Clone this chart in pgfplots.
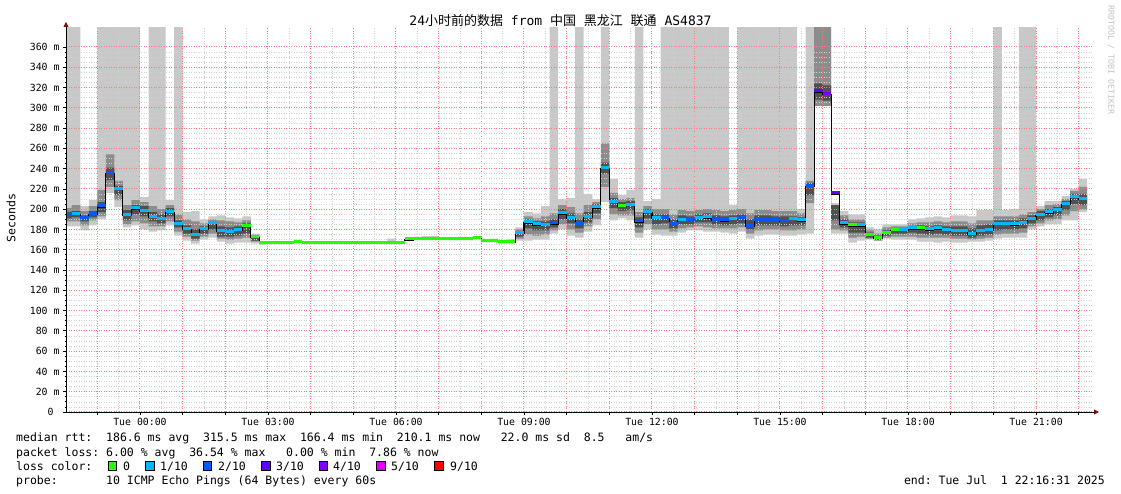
\documentclass[border=0pt]{standalone}
\usepackage{pgfplots}
\pgfplotsset{compat=1.18}
\usepackage{pgfplotstable}
\usepgfplotslibrary{fillbetween}
\usetikzlibrary{arrows.meta}
\usepackage{fontspec}
\setmainfont{DejaVu Sans Mono}
\newfontfamily\cjk{Noto Sans CJK SC}
\frenchspacing

\definecolor{loss0}{HTML}{26FF00}
\definecolor{loss1}{HTML}{00B8FF}
\definecolor{loss2}{HTML}{0059FF}
\definecolor{loss3}{HTML}{5E00FF}
\definecolor{loss4}{HTML}{7E00FF}
\definecolor{loss5}{HTML}{DD00FF}
\definecolor{loss9}{HTML}{FF0000}
\definecolor{smokeA}{HTML}{C8C8C8}
\definecolor{smokeB}{HTML}{8C8C8C}
\definecolor{smokeC}{HTML}{505050}
\definecolor{gridred}{HTML}{FF7A7A}
\definecolor{gridgray}{HTML}{D0D0D0}
\definecolor{arrowc}{HTML}{801010}
\definecolor{wmark}{HTML}{C4C4C4}

\newcommand\tickfont{\fontsize{9.85bp}{12bp}\selectfont}
\newcommand\legfont{\fontsize{11.5bp}{14bp}\selectfont}
\newcommand\titlefont{\fontsize{13bp}{16bp}\selectfont}

% smoke below the grid, median line above it
\pgfplotsset{
  layers/smoke/.define layer set={axis background,pre main,axis grid,axis ticks,main,axis lines,axis tick labels,axis descriptions,axis foreground}{/pgfplots/layers/standard},
}

% 12-minute steps, t in hours from Tue 00:00; smoke bands (outer, middle, inner), median and loss class
\pgfplotstableread{
t lo1 hi1 lo2 hi2 lo3 hi3 med c
-1.8 183 400 188 201 191 197 194 c
-1.6 183 400 188 204 192 198 195 b
-1.4 179 203 184 198 188 194 191 c
-1.2 184 209 189 203 192 198 195 c
-1.0 190 400 193 219 197 207 202 c
-0.8 216 400 222 254 229 241 235 c
-0.6 202 400 209 228 214 223 219 b
-0.4 182 400 185 204 189 199 194 b
-0.2 184 400 188 209 195 204 200 b
0.0 180 212 186 207 193 203 198 b
0.2 178 400 183 203 188 197 192 b
0.4 179 400 183 200 186 195 190 b
0.6 184 209 188 204 193 201 197 b
0.8 174 400 178 195 182 189 185 b
1.0 169 197 173 190 176 184 180 b
1.2 166 198 169 188 171 180 174 b
1.4 170 190 173 186 176 183 180 b
1.6 172 193 176 190 180 188 186 b
1.8 168 194 171 189 173 183 178 b
2.0 166 192 170 188 173 182 177 b
2.2 167 191 171 187 174 183 179 b
2.4 167 193 172 189 176 186 183 a
2.6 166 176 168 175 169 174 172 a
2.8 165 168 165.5 167 165.8 166.6 166 a
3.0 165.5 167.5 166 167 166.1 166.8 166.4 a
3.2 165.5 167.5 166 167 166.1 166.8 166.4 a
3.4 165.5 167.5 166 167 166.1 166.8 166.4 a
3.6 166.5 170 167 168.5 167.1 167.8 167.4 a
3.8 165.5 167.5 166 167 166.1 166.7 166.3 a
4.0 165.5 167.5 166 167 166.1 166.7 166.3 a
4.2 165.5 167.5 166 167 166.1 166.7 166.3 a
4.4 165.5 167.5 166 167 166.1 166.7 166.3 a
4.6 165.5 167.5 166 167 166.1 166.7 166.3 a
4.8 165.5 167.5 166 167 166.1 166.7 166.3 a
5.0 165.5 167.5 166 167 166.1 166.7 166.3 a
5.2 165.5 167.5 166 167 166.1 166.7 166.3 a
5.4 165.5 167.5 166 167 166.1 166.7 166.3 a
5.6 165.5 167.5 166 167 166.1 166.7 166.3 a
5.8 165.5 171 166 167 166.1 166.7 166.3 a
6.0 165.5 167.5 166 167 166.1 166.7 166.3 a
6.2 168.6 171 169 170.5 169.3 170 169.6 a
6.4 169.3 172 169.8 171.3 170 170.7 170.3 a
6.6 169.3 173.5 169.8 171.3 170 170.7 170.3 a
6.8 169.3 173.5 169.8 171.3 170 170.7 170.3 a
7.0 169.3 172 169.8 171.3 170 170.7 170.3 a
7.2 169.3 172 169.8 171.3 170 170.7 170.3 a
7.4 169.3 172.8 169.8 171.3 170 170.7 170.3 a
7.6 169.3 172.8 169.8 171.3 170 170.7 170.3 a
7.8 170.3 173 170.8 172 171 171.7 171.3 a
8.0 167.3 169.5 167.8 169 168 168.7 168.3 a
8.2 167.3 171 167.8 169 168 168.7 168.3 a
8.4 166 168.5 166.5 167.8 166.7 167.4 167 a
8.6 166 170.5 166.5 167.8 166.7 167.4 167 a
8.8 169 182 171 180 173 178 175.6 b
9.0 169 197 175 193 181 190 186.4 b
9.2 170 196 174 191 179 188 184.4 b
9.4 170 203 175 193 179 188 183.5 b
9.6 176 400 179 196 182 190 185.4 c
9.8 180 210 185 204 190 200 195.3 b
10.0 174 211 180 202 186 196 191 b
10.2 172 400 177 196 181 190 185.1 c
10.4 178 215 183 204 187 197 192 b
10.6 184 210 190 207 196 205 201.2 b
10.8 207 400 222 265 235 246 239.7 b
11.0 189 230 195 216 201 211 206.5 b
11.2 191 214 194 210 198 207 202.9 a
11.4 189 219 194 211 199 208 203.6 b
11.6 172 400 177 197 182 192 187.4 c
11.8 180 208 185 203 191 200 196.6 b
12.0 175 210 180 200 185 195 190.4 b
12.2 174 400 180 200 186 195 191 c
12.4 174 400 178 195 181 190 185 c
12.6 177 400 181 199 185 194 189 b
12.8 179 400 182 198 185 193 189 c
13.0 179 400 183 199 187 195 191 b
13.2 178 400 182 200 187 196 191.3 b
13.4 178 400 181 199 185 194 188.7 c
13.6 177 400 181 198 184 193 188.4 c
13.8 176 204 181 199 185 194 189.4 b
14.0 178 400 182 200 186 195 190.7 c
14.2 171 400 176 196 180 190 183.1 c
14.4 174 400 179 199 184 194 189 c
14.6 175 400 180 199 184 194 188.7 c
14.8 175 400 180 198 184 193 188.7 c
15.0 174 400 179 198 183 193 188 c
15.2 174 400 179 198 184 193 189.4 b
15.4 175 200 180 196 184 192 188.4 b
15.6 176 400 206 228 214 226 222.2 c
15.8 302 400 302 400 308 324 315.6 d
16.0 302 400 302 400 307 322 313.3 e
16.2 176 206 180 204 189 204 215 d
16.4 176 198 179 194 182 190 185.4 b
16.6 167 195 172 190 177 187 183.4 a
16.8 169 195 173 190 177 187 183.4 b
17.0 170 182 171 179 172 177 174.3 a
17.2 169 180 169 176 170 174 171 a
17.4 171 185 172 182 174 179 176.3 a
17.6 170 185 173 183 176 181 179 a
17.8 170 185 173 183 176 181 179.2 b
18.0 170 190 173 186 177 183 180.5 b
18.2 168 191 172 187 176 184 180.5 a
18.4 168 192 172 187 175 183 179.5 b
18.6 167 193 172 188 176 184 180.5 b
18.8 168 192 172 187 175 183 179.2 b
19.0 167 194 171 188 174 183 178 b
19.2 167 194 171 188 174 183 178 b
19.4 168 193 170 186 172 181 175.3 b
19.6 168 199 171 189 174 184 178.3 b
19.8 169 199 172 189 175 185 179.2 b
20.0 171 400 175 193 179 189 184.7 b
20.2 172 199 176 193 180 189 184.7 b
20.4 172 200 176 193 180 189 184.4 b
20.6 172 400 177 195 181 191 186 b
20.8 180 400 183 197 186 194 190 b
21.0 183 203 186 200 189 198 193.6 b
21.2 185 208 189 204 192 200 196.3 b
21.4 185 208 190 205 194 202 198.6 b
21.6 189 213 194 210 199 208 204.5 b
21.8 189 220 198 218 205 215 211.7 b
22.0 197 230 200 222 204 215 209.8 b
22.2 197 230 200 222 204 215 209.8 b
}\smoke

\begin{document}
\begin{tikzpicture}
\path (0,0) rectangle (1121bp,494bp);
\begin{axis}[
    at={(66bp,82bp)}, anchor=south west,
    scale only axis, width=1027bp, height=384bp,
    xmin=-1.734, xmax=22.336,
    ymin=0, ymax=378.7,
    set layers=smoke,
    clip mode=individual, clip marker paths=true,
    axis x line=bottom, axis y line=left,
    axis line style={line width=0.9bp, shorten >=-6bp,
        -{Triangle[length=5bp,width=5bp,color=arrowc,fill=arrowc]}},
    xtick={-1,0,...,22},
    xticklabels={,Tue 00:00,,,Tue 03:00,,,Tue 06:00,,,Tue 09:00,,,Tue 12:00,,,Tue 15:00,,,Tue 18:00,,,Tue 21:00,,},
    minor x tick num=1,
    ytick={0,20,...,360},
    yticklabels={0~~,20 m,40 m,60 m,80 m,100 m,120 m,140 m,160 m,180 m,200 m,220 m,240 m,260 m,280 m,300 m,320 m,340 m,360 m},
    minor y tick num=3,
    grid=both,
    major grid style={draw=gridred, line width=1bp, dash pattern=on 1bp off 1.5bp},
    minor grid style={draw=gridgray, line width=0.7bp, dash pattern=on 1bp off 1.5bp},
    tick align=outside,
    major tick length=3bp, minor tick length=1.5bp,
    tick style={black, line width=0.8bp},
    tick label style={font=\tickfont},
]
% smoke
\addplot[const plot, draw=none, name path=lo1] table[x=t, y=lo1] {\smoke};
\addplot[const plot, draw=none, name path=hi1] table[x=t, y=hi1] {\smoke};
\addplot[const plot, draw=none, name path=lo2] table[x=t, y=lo2] {\smoke};
\addplot[const plot, draw=none, name path=hi2] table[x=t, y=hi2] {\smoke};
\addplot[const plot, draw=none, name path=lo3] table[x=t, y=lo3] {\smoke};
\addplot[const plot, draw=none, name path=hi3] table[x=t, y=hi3] {\smoke};
\addplot[fill=smokeA, draw=none] fill between[of=hi1 and lo1];
\addplot[fill=smokeB, draw=none] fill between[of=hi2 and lo2];
\addplot[fill=smokeC, draw=none] fill between[of=hi3 and lo3];
% median
\addplot[const plot, black, line width=1.1bp] table[x=t, y=med] {\smoke};
% loss colour of the median
\addplot[scatter, only marks, mark=-, mark size=4.27bp,
    scatter src=explicit symbolic,
    scatter/classes={a={draw=loss0}, b={draw=loss1}, c={draw=loss2}, d={draw=loss3}, e={draw=loss4}},
    mark options={line width=3bp, yshift=1.2bp},
    restrict x to domain=-2:22.15]
    table[x expr=\thisrow{t}+0.1, y=med, meta=c] {\smoke};
\end{axis}

\node[font=\titlefont] at (560.5bp,473bp) {24{\cjk 小时前的数据} from {\cjk 中国} {\cjk 黑龙江} {\cjk 联通} AS4837};
\node[font=\legfont, rotate=90] at (11bp,276bp) {Seconds};
\node[font=\fontsize{8.3bp}{10bp}\selectfont, text=wmark, rotate=-90] at (1111bp,434bp) {RRDTOOL / TOBI OETIKER};

\node[font=\legfont, anchor=base west, inner sep=0pt] at (16bp,52bp) {median rtt:~~186.6 ms avg~~315.5 ms max~~166.4 ms min~~210.1 ms now~~~22.0 ms sd~~8.5~~~am/s};
\node[font=\legfont, anchor=base west, inner sep=0pt] at (16bp,38bp) {packet loss: 6.00 \% avg~~36.54 \% max~~~0.00 \% min~~7.86 \% now};
\node[font=\legfont, anchor=base west, inner sep=0pt] at (16bp,24bp) {loss color:};
\node[font=\legfont, anchor=base west, inner sep=0pt] at (16bp,10bp) {probe:~~~~~~~10 ICMP Echo Pings (64 Bytes) every 60s};
\node[font=\legfont, anchor=base east, inner sep=0pt] at (1105bp,10bp) {end: Tue Jul~~1 22:16:31 2025};

\foreach \xs/\col/\xl/\lab in {112.5/loss0/123/0, 150/loss1/160/1\slash 10, 207.5/loss2/218/2\slash 10, 266/loss3/276/3\slash 10, 323.5/loss4/333/4\slash 10, 381/loss5/391/5\slash 10, 439/loss9/450/9\slash 10}{
  \node[draw=black, fill=\col, line width=0.8bp, minimum size=8.5bp, inner sep=0pt] at (\xs bp,28bp) {};
  \node[font=\legfont, anchor=base west, inner sep=0pt] at (\xl bp,24bp) {\lab};
}
\end{tikzpicture}
\end{document}
